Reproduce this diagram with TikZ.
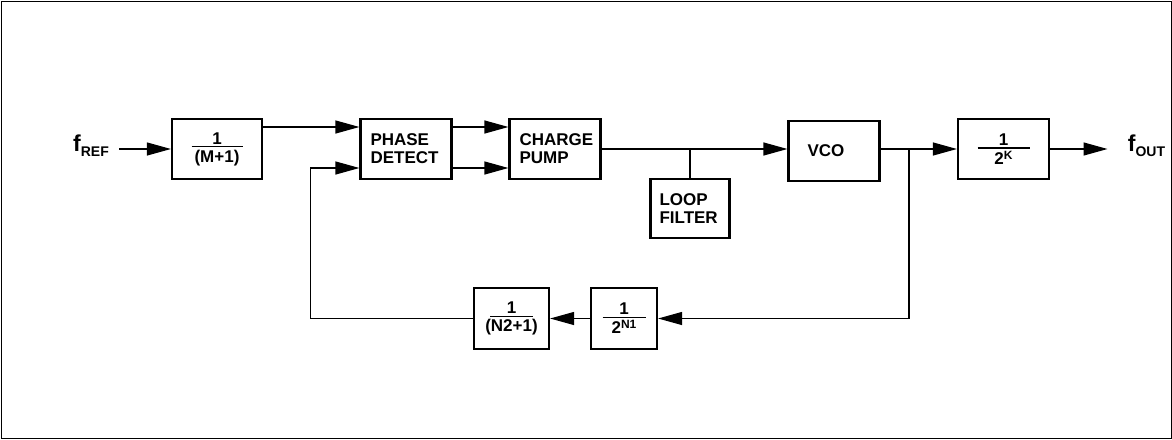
\documentclass[tikz,border=0pt]{standalone}
\usepackage{fontspec}
\setmainfont{Liberation Sans}
\usetikzlibrary{arrows.meta}

% stacked 1 over denominator, with a bar of fixed width
\newcommand{\frc}[3]{\vbox{\hbox to #3{\hss#1\hss}\kern1pt
  \hrule height .7pt\kern1.2pt\hbox to #3{\hss#2\hss}}}

\begin{document}
\begin{tikzpicture}[
  x=0.5pt, y=-0.5pt,
  font=\bfseries\fontsize{8.5}{9}\selectfont,
  blk/.style={draw, line width=1.1pt, minimum height=30pt, inner sep=0pt, align=center},
  tblk/.style={draw, line width=1.1pt, minimum height=30pt, inner xsep=5pt,
               text width=35.5pt, align=left},
  lbl/.style={inner xsep=5pt},
  sarr/.style={-{Triangle[length=12pt,width=6.5pt]}, line width=0.6pt}
]
\useasboundingbox (0,0) rectangle (1172,439);
\draw[line width=0.5pt] (1,1) rectangle (1171,438);

\node[lbl] (fref) at (91,146)
  {\fontsize{11.5}{12}\selectfont f\fontsize{7}{8}\selectfont\raisebox{-2.5pt}{REF}};
\node[blk, minimum width=45pt] (m1) at (217,149) {\frc{1}{(M+1)}{25.5pt}};
\node[tblk] (pd) at (406,149) {PHASE\\DETECT};
\node[tblk] (cp) at (555,149) {CHARGE\\PUMP};
\node[tblk, minimum height=29.5pt, inner xsep=4.5pt, text width=30.5pt] (lf) at (690,208.5)
  {LOOP\\FILTER};
\node[tblk] (vco) at (834,151) {\hspace*{4.5pt}VCO};
\node[blk, minimum width=45.5pt] (divk) at (1003.5,149)
  {\frc{1}{2\raisebox{2.5pt}{\fontsize{6}{6}\selectfont K}}{26pt}};
\node[lbl, inner xsep=10pt] (fout) at (1146.5,146)
  {\fontsize{11.5}{12}\selectfont f\fontsize{7}{8}\selectfont\raisebox{-2.5pt}{OUT}};
\node[blk, minimum width=33pt, minimum height=30.5pt] (n1) at (624,318.5)
  {\frc{1}{2\raisebox{2.5pt}{\fontsize{6}{6}\selectfont N1}}{21.5pt}};
\node[blk, minimum width=37.5pt, minimum height=30.5pt] (n2) at (511.5,318.5)
  {\frc{1}{(N2+1)}{21.5pt}};

% junctions and corners
\coordinate (j1) at (lf.north |- cp.east);
\coordinate (j2) at (909,149);
\coordinate (c1) at (909,318.5);
\coordinate (c2) at (310.5,318.5);

\draw[sarr] (fref.east |- m1) -- (m1.west);
\draw[sarr] ([yshift=11pt]m1.east) -- ([yshift=11pt]pd.west);
\foreach \s in {11pt,-9.5pt}{
  \draw[sarr] ([yshift=\s]pd.east) -- ([yshift=\s]cp.west);}
\draw[sarr] (cp.east) -- (vco.west |- cp.east);
\draw[line width=0.6pt] (j1) -- (lf.north);
\draw[sarr] (vco.east |- j2) -- (divk.west);
\draw[sarr] (divk.east) -- (fout.west |- divk.east);
\draw[sarr] (j2) -- (c1) -- (n1.east);
\draw[sarr] (n1.west) -- (n2.east);
\draw[sarr] (n2.west) -- (c2) |- ([yshift=-9.5pt]pd.west);
\end{tikzpicture}
\end{document}
